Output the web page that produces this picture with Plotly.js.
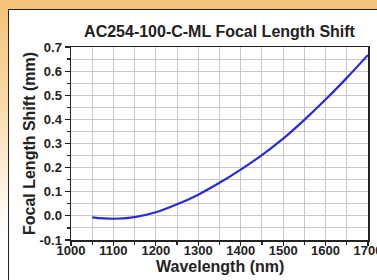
<!DOCTYPE html>
<html>
<head>
<meta charset="utf-8">
<script src="https://cdn.plot.ly/plotly-3.0.1.min.js"></script>
<style>
  html, body { margin: 0; padding: 0; width: 377px; height: 280px; overflow: hidden; }
  body { background: linear-gradient(to bottom, #f4c278 0%, #f8d9a6 35%, #fdf1df 65%, #ffffff 85%); position: relative; }
  #panel { position: absolute; left: 8px; top: 9px; width: 400px; height: 300px; background: #ffffff; border: 1.5px solid #222; }
  #chart { position: absolute; left: 0; top: 0; width: 377px; height: 280px; }
</style>
</head>
<body>
<div id="panel"></div>
<div id="chart"></div>
<script>
const chartTitle = "AC254-100-C-ML Focal Length Shift";
const xTitle = "Wavelength (nm)";
const yTitle = "Focal Length Shift (mm)";
const wavelength = [1050, 1100, 1150, 1200, 1250, 1300, 1350, 1400, 1450, 1500, 1550, 1600, 1650, 1700];
const focalShift = [-0.006, -0.012, -0.005, 0.015, 0.048, 0.088, 0.137, 0.192, 0.252, 0.320, 0.398, 0.482, 0.572, 0.667];
const xTickVals = [1000, 1100, 1200, 1300, 1400, 1500, 1600, 1700];
const yTickVals = [-0.1, 0.0, 0.1, 0.2, 0.3, 0.4, 0.5, 0.6, 0.7];
const yTickText = ["-0.1", "0.0", "0.1", "0.2", "0.3", "0.4", "0.5", "0.6", "0.7"];

const font = "'Liberation Sans', Arial, sans-serif";
const textColor = "#222";

Plotly.newPlot("chart", [{
  x: wavelength,
  y: focalShift,
  type: "scatter",
  mode: "lines",
  line: { color: "#2b2bd6", width: 2.2, shape: "spline", smoothing: 1 },
  hoverinfo: "skip"
}], {
  width: 377,
  height: 280,
  margin: { l: 71, r: 9, t: 47, b: 40 },
  paper_bgcolor: "rgba(0,0,0,0)",
  plot_bgcolor: "#ffffff",
  showlegend: false,
  title: {
    text: "<b>" + chartTitle + "</b>",
    font: { family: font, size: 16, color: textColor },
    x: 0.5, xref: "paper", xanchor: "center",
    y: 1 - 31 / 280, yref: "container", yanchor: "middle"
  },
  annotations: [{
    text: "<b>" + xTitle + "</b>",
    font: { family: font, size: 16, color: textColor },
    xref: "paper", yref: "paper",
    x: 0.5, xanchor: "center",
    y: -26 / 193, yanchor: "middle",
    showarrow: false
  }],
  xaxis: {
    range: [1000, 1700],
    tickvals: xTickVals,
    ticktext: xTickVals.map(String),
    ticks: "outside", ticklen: 4, tickwidth: 1.2, tickcolor: "#222",
    ticklabelstandoff: -6,
    ticklabeloverflow: "allow",
    tickfont: { family: font, size: 13, color: textColor, weight: "bold" },
    showgrid: true, gridcolor: "#c8c8c8", gridwidth: 1,
    minor: { dtick: 50, showgrid: true, gridcolor: "#c8c8c8", gridwidth: 1, ticks: "outside", ticklen: 3, tickcolor: "#222" },
    showline: true, linecolor: "#222", linewidth: 1.5, mirror: true,
    zeroline: false,
    automargin: false
  },
  yaxis: {
    range: [-0.1, 0.7],
    tickvals: yTickVals,
    ticktext: yTickText,
    ticks: "outside", ticklen: 5, tickwidth: 1.2, tickcolor: "#222",
    tickfont: { family: font, size: 13, color: textColor, weight: "bold" },
    showgrid: true, gridcolor: "#c8c8c8", gridwidth: 1,
    minor: { dtick: 0.05, showgrid: true, gridcolor: "#c8c8c8", gridwidth: 1, ticks: "outside", ticklen: 3, tickcolor: "#222" },
    showline: true, linecolor: "#222", linewidth: 1.5, mirror: true,
    zeroline: false,
    automargin: false,
    title: { text: "<b>" + yTitle + "</b>", font: { family: font, size: 16, color: textColor }, standoff: 0 }
  }
}, { staticPlot: true, displayModeBar: false });
</script>
</body>
</html>
